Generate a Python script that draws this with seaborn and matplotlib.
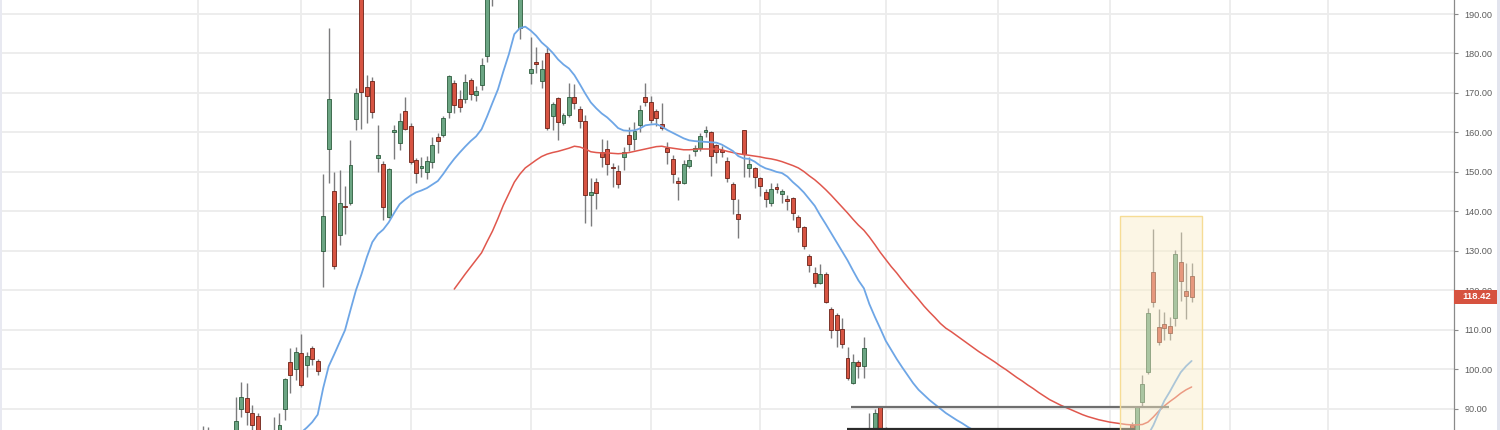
import numpy as np
import pandas as pd
import matplotlib
matplotlib.use("Agg")
import matplotlib.pyplot as plt
import matplotlib.transforms as mtransforms
from matplotlib.patches import Rectangle
import seaborn as sns

nan = np.nan

# ---------------- data (daily bars, index 0..181) ----------------
opens = [
    83.8, 84.3, nan, nan, nan, nan, 84.0, 89.9, 92.7, 88.9,            # 0-9
    88.1, nan, nan, 83.9, 84.3, 89.9, 101.8, 100.0, 104.1, 101.1,      # 10-19
    105.4, 102.1, 130.0, 155.8, 145.2, 134.0, 141.4, 142.1, 163.4, 196.0,  # 20-29
    171.5, 173.0, 153.5, 152.0, 138.6, 160.1, 157.3, 165.4, 161.6, 153.0,  # 30-39
    151.0, 150.0, 152.5, 158.8, 159.3, 165.2, 172.5, 168.5, 168.5, 173.3,  # 40-49
    169.5, 172.0, 179.3, 196.5, nan, nan, nan, nan, 186.5, nan,        # 50-59
    175.0, 177.8, 173.0, 180.1, 164.2, 168.7, 162.4, 164.4, 169.0, 165.9,  # 60-69
    162.9, 144.1, 147.4, 155.0, 155.8, 151.2, 150.2, 153.8, 159.3, 158.3,  # 70-79
    161.9, 169.0, 167.7, 165.4, 162.1, 156.0, 153.3, 147.4, 147.2, 151.5,  # 80-89
    155.3, 156.0, 160.1, 160.1, 156.8, 155.3, 152.8, 146.9, 139.3, 160.6,  # 90-99
    151.0, 151.0, 148.4, 144.9, 142.1, 146.2, 144.4, 142.9, 143.4, 138.6,  # 100-109
    136.0, 128.7, 124.4, 121.8, 124.1, 115.3, 113.7, 110.2, 102.8, 96.5,   # 110-119
    101.8, 100.8, 84.2, 83.0, 90.4, 83.5, nan, 83.0, nan, nan,          # 120-129
    nan, nan, nan, nan, nan, nan, nan, nan, nan, nan,                  # 130-139
    nan, nan, nan, nan, nan, nan, nan, nan, nan, nan,                  # 140-149
    nan, nan, nan, nan, nan, nan, nan, nan, nan, nan,                  # 150-159
    nan, nan, nan, nan, nan, nan, nan, nan, nan, nan,                  # 160-169
    85.9, 84.0, 91.8, 99.3, 124.6, 110.7, 111.5, 111.0, 113.0, 127.2,   # 170-179
    119.8, 123.6,                                                      # 180-181
]
highs = [
    85.6, 85.4, nan, nan, nan, nan, 92.9, 96.8, 96.5, 90.9,
    88.9, nan, nan, 87.9, 88.9, 97.7, 105.4, 105.6, 108.9, 104.4,
    105.9, 102.6, 149.5, 186.4, 150.0, 150.5, 146.4, 158.1, 171.2, 197.0,
    174.5, 174.0, 161.9, 152.8, 151.0, 161.9, 164.9, 169.0, 162.4, 153.5,
    153.8, 154.0, 158.8, 159.9, 164.2, 174.5, 173.3, 170.7, 174.8, 173.8,
    171.8, 178.9, 196.5, 199.0, nan, nan, nan, nan, 196.0, nan,
    184.2, 181.6, 178.3, 181.6, 167.7, 169.0, 164.9, 172.5, 172.3, 166.7,
    164.4, 148.4, 148.4, 158.3, 158.1, 152.2, 151.7, 156.3, 161.4, 162.6,
    167.0, 172.5, 169.2, 165.9, 167.5, 157.6, 154.3, 148.7, 153.0, 154.5,
    156.8, 159.9, 161.6, 160.4, 157.1, 156.6, 153.8, 147.4, 143.1, 160.6,
    153.8, 151.2, 148.7, 145.6, 147.2, 147.2, 145.6, 144.1, 143.6, 139.1,
    136.3, 129.2, 125.9, 126.7, 124.6, 115.8, 114.2, 113.0, 105.6, 103.8,
    102.3, 108.2, 88.9, 89.9, 90.5, 85.4, nan, 84.8, nan, nan,
    nan, nan, nan, nan, nan, nan, nan, nan, nan, nan,
    nan, nan, nan, nan, nan, nan, nan, nan, nan, nan,
    nan, nan, nan, nan, nan, nan, nan, nan, nan, nan,
    nan, nan, nan, nan, nan, nan, nan, nan, nan, nan,
    86.7, 90.6, 98.5, 115.5, 135.5, 115.3, 114.5, 113.2, 130.2, 134.8,
    126.9, 126.9,
]
lows = [
    82.9, 83.1, nan, nan, nan, nan, 83.4, 87.9, 85.9, 84.0,
    82.5, nan, nan, 83.0, 83.6, 87.1, 94.0, 97.3, 95.5, 98.0,
    101.1, 98.6, 120.8, 147.2, 125.4, 131.5, 134.3, 141.6, 160.6, 160.9,
    162.4, 163.6, 149.9, 137.8, 138.4, 153.3, 155.6, 160.6, 152.0, 147.2,
    148.7, 148.2, 151.0, 154.8, 158.8, 163.6, 164.9, 165.2, 167.4, 168.2,
    168.0, 170.7, 177.9, 192.0, nan, nan, nan, nan, 183.6, nan,
    172.3, 175.1, 171.2, 160.6, 160.6, 158.1, 162.0, 163.9, 165.9, 161.1,
    137.0, 136.3, 140.6, 151.2, 149.2, 146.2, 146.0, 150.5, 155.3, 155.6,
    160.1, 166.7, 162.4, 161.6, 160.6, 152.0, 147.2, 142.9, 146.9, 151.0,
    154.0, 155.3, 158.8, 149.0, 152.2, 153.8, 147.4, 139.3, 133.2, 148.7,
    148.7, 145.9, 144.0, 141.1, 141.4, 144.6, 142.1, 140.3, 137.8, 134.8,
    130.5, 124.6, 120.8, 121.6, 116.8, 107.9, 105.6, 105.4, 97.3, 96.2,
    97.8, 97.8, 81.5, 82.0, 82.5, 81.0, nan, 81.0, nan, nan,
    nan, nan, nan, nan, nan, nan, nan, nan, nan, nan,
    nan, nan, nan, nan, nan, nan, nan, nan, nan, nan,
    nan, nan, nan, nan, nan, nan, nan, nan, nan, nan,
    nan, nan, nan, nan, nan, nan, nan, nan, nan, nan,
    83.5, 83.0, 90.4, 98.8, 115.8, 106.1, 107.4, 107.4, 111.0, 117.3,
    112.7, 117.1,
]
closes = [
    84.2, 83.6, nan, nan, nan, nan, 86.9, 92.9, 89.2, 85.9,
    83.8, nan, nan, 84.3, 85.9, 97.5, 98.6, 104.4, 96.0, 103.3,
    102.6, 99.6, 138.8, 168.5, 126.1, 142.1, 141.0, 151.7, 170.0, 170.2,
    169.2, 165.2, 154.3, 141.1, 150.7, 160.6, 162.9, 160.9, 152.5, 149.7,
    151.5, 152.8, 156.8, 157.8, 163.6, 174.3, 166.9, 166.4, 172.8, 169.7,
    170.5, 177.1, 195.5, 197.5, nan, nan, nan, nan, 195.0, nan,
    176.1, 177.3, 176.1, 161.1, 167.2, 162.6, 164.4, 169.0, 167.4, 162.9,
    144.1, 144.9, 144.6, 153.8, 152.0, 150.9, 146.9, 155.0, 157.0, 160.4,
    165.7, 167.7, 163.2, 163.6, 161.1, 155.0, 149.5, 147.2, 152.0, 153.0,
    156.0, 159.1, 160.4, 154.0, 155.0, 155.1, 148.4, 143.1, 138.0, 154.5,
    152.0, 148.7, 146.4, 143.1, 145.6, 145.6, 145.2, 142.6, 139.6, 136.0,
    131.2, 126.4, 121.8, 124.1, 117.1, 109.9, 109.9, 106.4, 97.8, 101.8,
    100.8, 105.4, 83.0, 88.9, 83.5, 83.0, nan, 82.0, nan, nan,
    nan, nan, nan, nan, nan, nan, nan, nan, nan, nan,
    nan, nan, nan, nan, nan, nan, nan, nan, nan, nan,
    nan, nan, nan, nan, nan, nan, nan, nan, nan, nan,
    nan, nan, nan, nan, nan, nan, nan, nan, nan, nan,
    84.0, 90.4, 96.2, 114.3, 117.1, 106.9, 110.4, 109.2, 129.2, 122.3,
    118.5, 118.42,
]

# fast moving average (blue), read per bar
ma_fast_bars = list(range(18, 144)) + list(range(173, 182))
ma_fast_vals = [
    84.0, 85.2, 86.6, 88.5, 95.2, 100.7, 103.7, 106.8, 109.9, 115.0,
    120.0, 124.0, 128.4, 132.2, 134.2, 135.4, 137.2, 139.6, 141.8, 143.0,
    144.0, 144.8, 145.3, 145.9, 146.8, 147.7, 149.5, 151.5, 153.3, 154.9,
    156.4, 157.8, 159.0, 160.8, 164.0, 167.5, 170.9, 175.5, 179.8, 184.9,
    186.4, 186.8, 185.8, 184.5, 182.8, 181.6, 180.2, 178.5, 177.2, 176.2,
    174.5, 172.2, 169.8, 167.6, 166.1, 164.8, 163.8, 162.5, 161.1, 160.5,
    160.4, 160.5, 161.0, 161.8, 162.0, 162.1, 161.5, 160.6, 159.9, 159.2,
    158.5, 158.0, 157.8, 157.7, 157.6, 157.5, 157.4, 156.9, 156.1, 155.3,
    154.0, 153.4, 153.3, 152.6, 151.6, 150.9, 150.5, 150.0, 149.7, 148.8,
    147.4, 146.2, 144.8, 143.1, 141.4, 139.0, 136.8, 134.5, 132.2, 129.9,
    127.6, 125.0, 122.5, 120.5, 116.5, 113.3, 110.3, 107.2, 104.9, 102.6,
    100.5, 98.5, 96.5, 94.8, 93.5, 92.2, 91.1, 90.0, 88.9, 88.0,
    87.1, 86.3, 85.4, 84.6, 83.8, 83.0,
    83.3, 85.8, 89.0, 92.0, 94.3, 96.8, 99.2, 100.8, 102.1,
]

# slow moving average (red), read per bar
ma_slow_bars = list(range(46, 182))
ma_slow_vals = [
    120.3, 122.2, 124.1, 125.9, 127.7, 129.5, 132.3, 135.0, 138.2, 141.6,
    144.5, 147.4, 149.4, 151.0, 152.0, 153.0, 153.9, 154.5, 154.9, 155.2,
    155.6, 156.0, 156.5, 156.3, 155.8, 155.1, 154.9, 154.8, 154.8, 154.7,
    154.6, 154.7, 154.9, 155.2, 155.5, 155.8, 156.1, 156.4, 156.5, 156.2,
    156.0, 155.8, 155.6, 155.6, 155.7, 155.8, 155.8, 155.8, 155.8, 155.6,
    155.2, 154.9, 154.6, 154.4, 154.2, 154.0, 153.8, 153.5, 153.3, 153.0,
    152.6, 152.1, 151.6, 151.0, 150.1, 149.0, 148.0, 146.8, 145.5, 144.1,
    142.6, 141.1, 139.6, 138.0, 136.5, 135.2, 133.5, 131.6, 129.6, 127.8,
    126.0, 124.4, 122.6, 120.9, 119.3, 117.7, 116.0, 114.5, 113.1, 111.6,
    110.4, 109.5, 108.5, 107.5, 106.5, 105.5, 104.5, 103.6, 102.7, 101.8,
    100.8, 99.9, 98.9, 97.9, 97.0, 96.0, 95.1, 94.1, 93.2, 92.3,
    91.6, 90.9, 90.3, 89.7, 89.1, 88.5, 88.0, 87.6, 87.2, 86.9,
    86.6, 86.4, 86.2, 86.0, 85.9, 85.9, 86.0, 86.6, 87.9, 89.4,
    90.7, 91.8, 92.8, 93.9, 94.8, 95.5,
]

# drawn horizontal levels (value, first bar, last bar)
level_vals = [90.5, 84.85]
level_from = [118.6, 117.9]
level_to = [176.9, 170.6]
level_cols = ["#6e6e6e", "#2b2b2b"]

# highlighted box (bars and price range)
box_bars = [167.9, 182.9]
box_prices = [70.0, 138.9]

# month grid positions (bar index)
month_bars = [-1, 18, 38, 60, 82, 102, 125, 145.5, 166, 188, 206]

yticks = [90, 100, 110, 120, 130, 140, 150, 160, 170, 180, 190]
last_price = 118.42

# ---------------- drawing ----------------
sns.set_theme(style="white")
plt.rcParams["font.family"] = ["Liberation Sans", "DejaVu Sans"]

W, H = 1500, 430
fig = plt.figure(figsize=(W / 100, H / 100), dpi=100)
fig.patch.set_facecolor("white")
ax = fig.add_axes([0, 0, 1454 / W, 1])
ax.set_facecolor("white")

bars = np.arange(len(opens))
df = pd.DataFrame({"bar": bars, "open": opens, "high": highs,
                   "low": lows, "close": closes}).dropna()

# grid
for v in yticks:
    ax.axhline(v, color="#ececec", lw=1.3, zorder=0)
for m in month_bars:
    ax.axvline(m, color="#ececec", lw=1.3, zorder=0)

# wicks
ax.vlines(df["bar"], df["low"], df["high"], color="#7b7b7d", lw=1.0, zorder=2)

# bodies
up = df["close"] >= df["open"]
body_lo = np.minimum(df["open"], df["close"])
body_h = np.maximum((df["close"] - df["open"]).abs(), 0.45)
ax.bar(df["bar"][up], body_h[up], bottom=body_lo[up], width=0.72,
       color="#6ba583", edgecolor="#2c5c3d", linewidth=0.6, zorder=3)
ax.bar(df["bar"][~up], body_h[~up], bottom=body_lo[~up], width=0.72,
       color="#d75442", edgecolor="#6b2117", linewidth=0.6, zorder=3)

# moving averages
fast = pd.DataFrame({"bar": ma_fast_bars, "value": ma_fast_vals})
fast["seg"] = (fast["bar"].diff() > 1).cumsum()
slow = pd.DataFrame({"bar": ma_slow_bars, "value": ma_slow_vals})
slow["seg"] = 0
sns.lineplot(data=slow, x="bar", y="value", units="seg", estimator=None,
             color="#e0574d", lw=1.1, ax=ax, zorder=4)
sns.lineplot(data=fast, x="bar", y="value", units="seg", estimator=None,
             color="#6ea6e6", lw=1.3, ax=ax, zorder=4)

# horizontal levels
for v, a, b, c in zip(level_vals, level_from, level_to, level_cols):
    ax.hlines(v, a, b, color=c, lw=1.6, zorder=5)

# highlighted box
ax.add_patch(Rectangle((box_bars[0], box_prices[0]), box_bars[1] - box_bars[0],
                       box_prices[1] - box_prices[0], facecolor="#f9edc6",
                       alpha=0.45, edgecolor="none", zorder=6))
ax.add_patch(Rectangle((box_bars[0], box_prices[0]), box_bars[1] - box_bars[0],
                       box_prices[1] - box_prices[0], facecolor="none",
                       edgecolor="#f6dc95", lw=1.0, zorder=6))

# axes ranges and ticks
ax.set_xlim((0 - 203) / 5.462, (1454 - 203) / 5.462)
ax.set_ylim(84.6, 193.55)
ax.set_xlabel("")
ax.set_ylabel("")
ax.set_xticks([])
ax.yaxis.tick_right()
ax.set_yticks(yticks)
ax.set_yticklabels([f"{v:.2f}" for v in yticks])
ax.tick_params(axis="y", which="both", right=True, length=3, width=0.8,
               color="#8a8a8a", pad=4.5, labelsize=6.6, labelcolor="#5d5d5d")
for s in ["left", "top", "bottom"]:
    ax.spines[s].set_visible(False)
ax.spines["right"].set_color("#8a8a8a")
ax.spines["right"].set_linewidth(0.9)

# last price tag
tr = mtransforms.blended_transform_factory(fig.transFigure, ax.transData)
hpx = 14 * (193.55 - 84.6) / H
fig.add_artist(Rectangle((1454 / W, last_price - hpx / 2), 43 / W, hpx,
                         transform=tr, facecolor="#d6523f", edgecolor="none",
                         zorder=10))
fig.text(1462 / W, last_price, f"{last_price:.2f}", transform=tr,
         color="white", fontsize=6.8, fontweight="bold", va="center",
         ha="left", zorder=11)

# edge strips
fig.add_artist(Rectangle((1497 / W, 0), 3 / W, 1, transform=fig.transFigure,
                         facecolor="#e2e4ee", edgecolor="none", zorder=12))
fig.add_artist(Rectangle((0, 0), 2 / W, 1, transform=fig.transFigure,
                         facecolor="#e8e9f1", edgecolor="none", zorder=12))

fig.savefig("out.png", dpi=100)
